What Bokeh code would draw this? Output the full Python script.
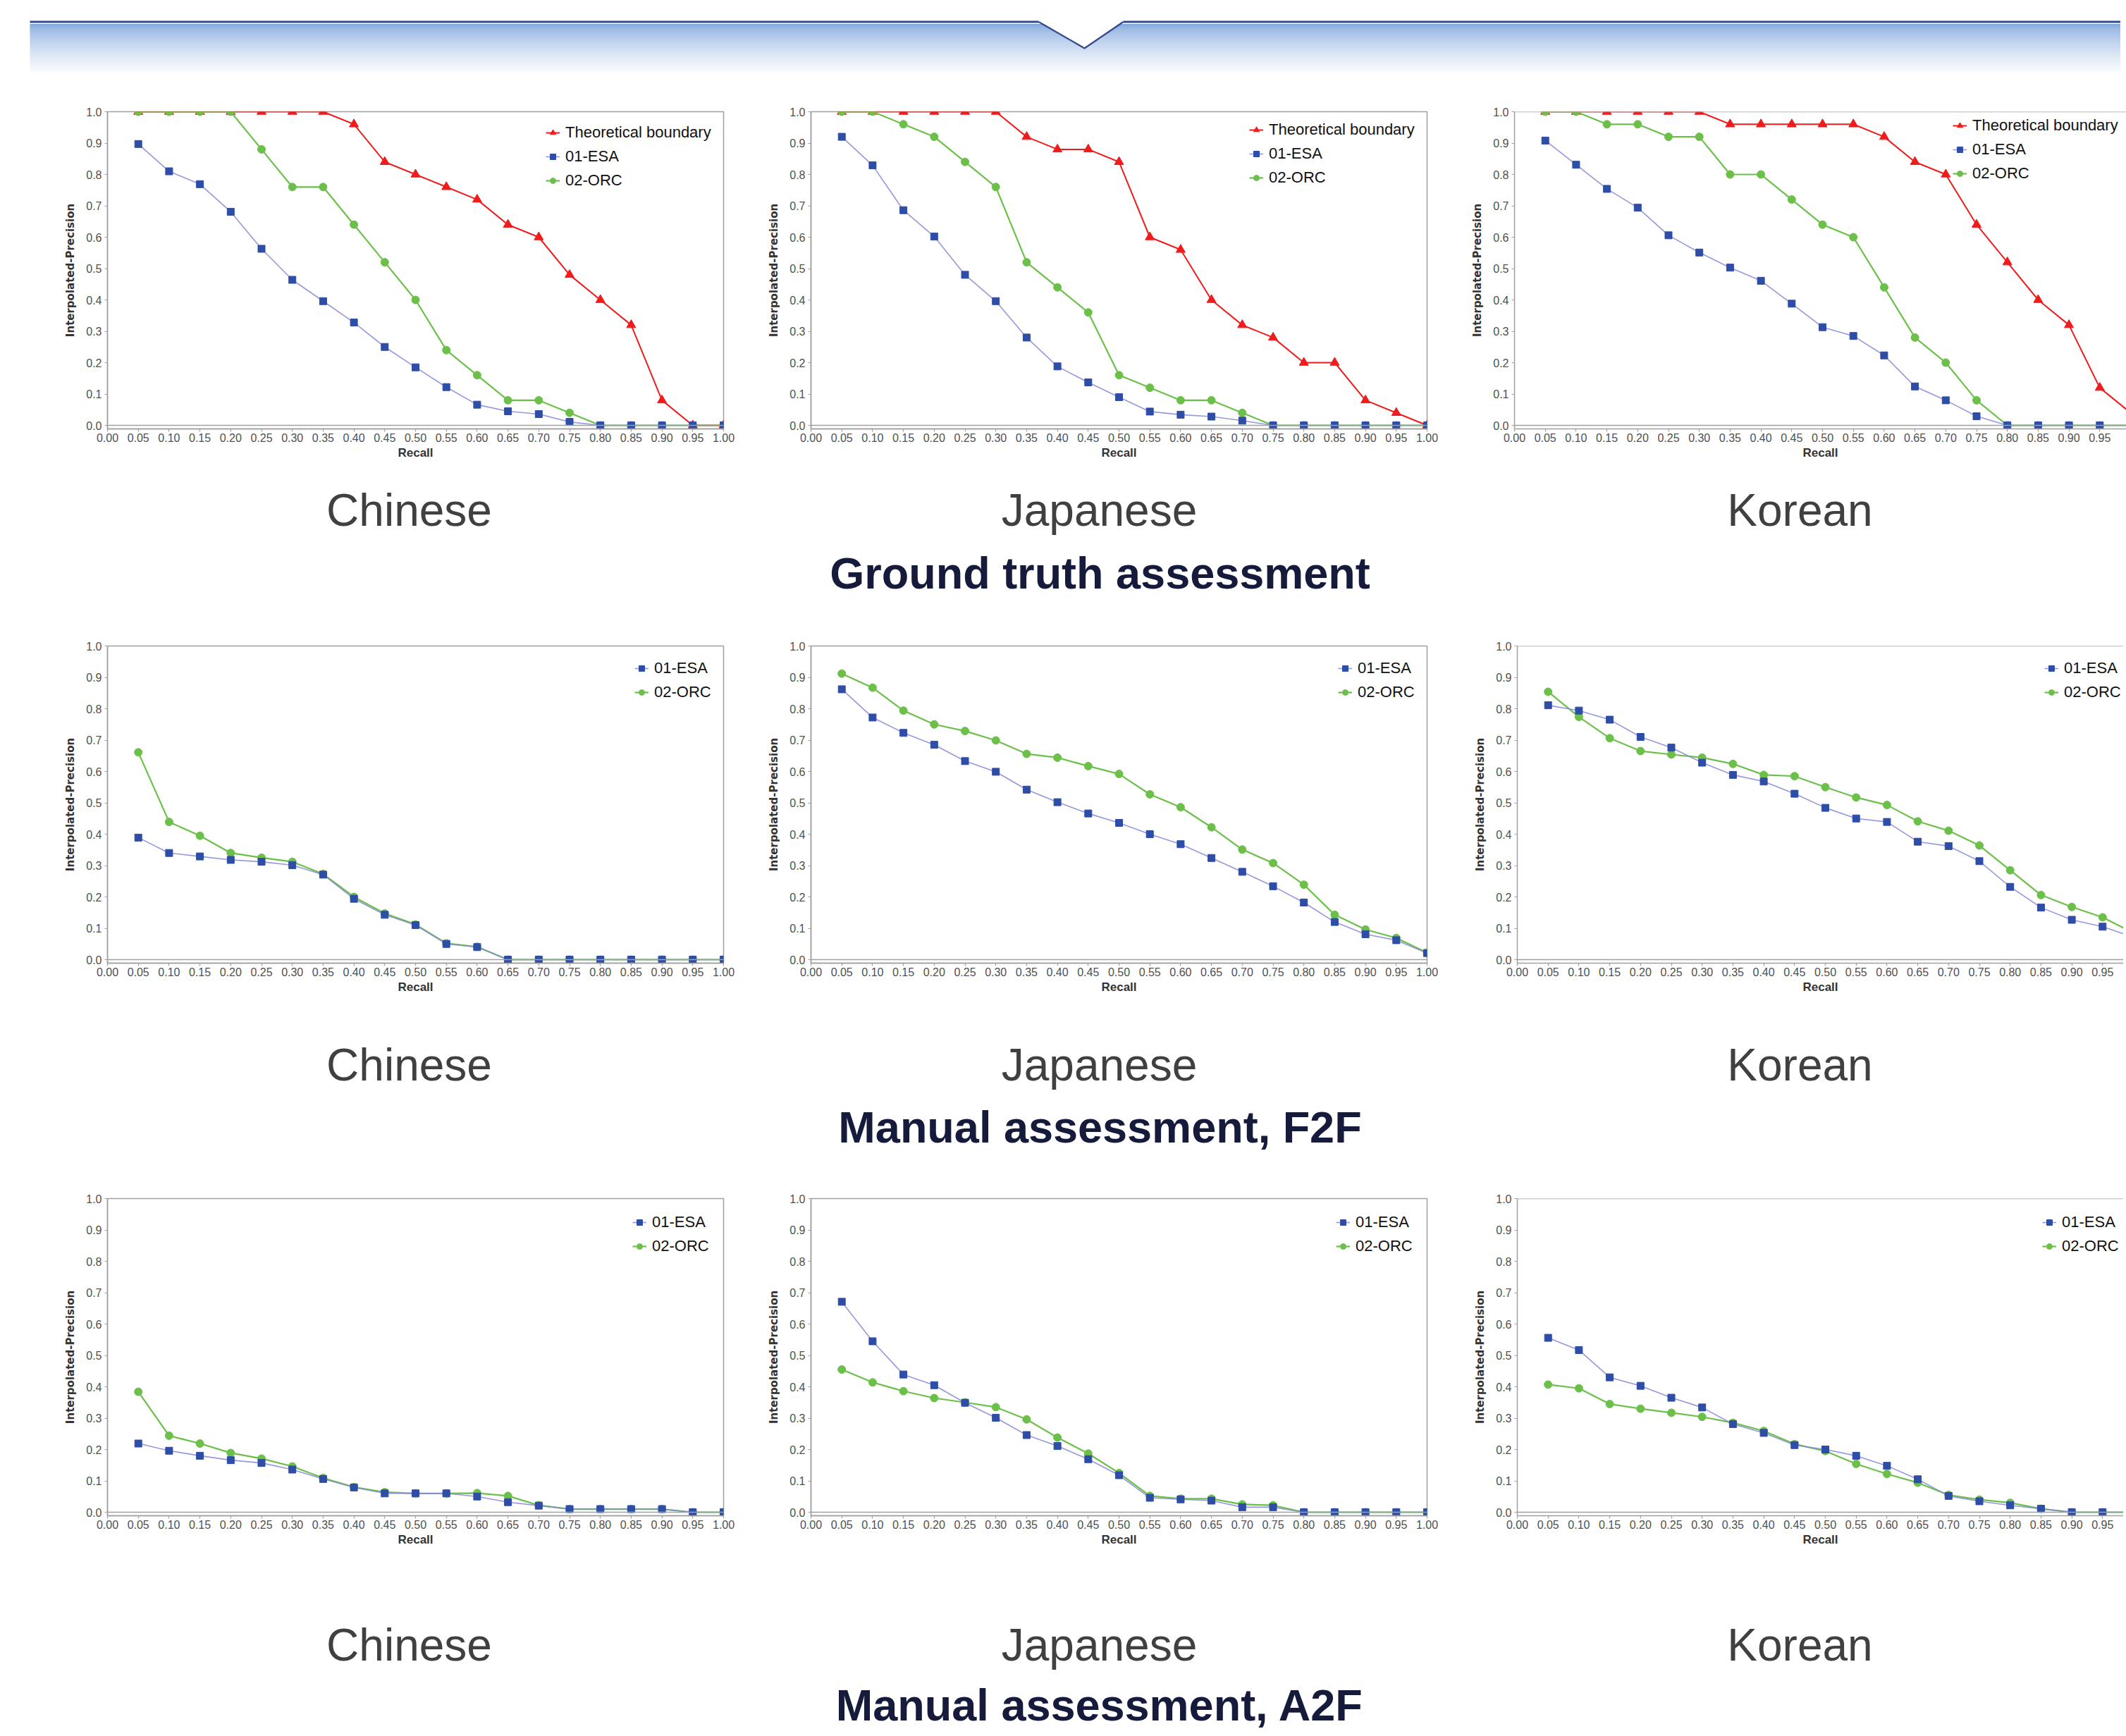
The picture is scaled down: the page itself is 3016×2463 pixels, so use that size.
from bokeh.plotting import figure
from bokeh.layouts import column, row
from bokeh.models import Range1d, FixedTicker, PrintfTickFormatter, Legend, LegendItem, Span
from bokeh.core.properties import value
from bokeh.embed import file_html
from bokeh.resources import INLINE

# ---------------- data ----------------
recall = [0.05, 0.10, 0.15, 0.20, 0.25, 0.30, 0.35, 0.40, 0.45, 0.50,
          0.55, 0.60, 0.65, 0.70, 0.75, 0.80, 0.85, 0.90, 0.95, 1.00]
x_ticks = [0.00, 0.05, 0.10, 0.15, 0.20, 0.25, 0.30, 0.35, 0.40, 0.45, 0.50,
           0.55, 0.60, 0.65, 0.70, 0.75, 0.80, 0.85, 0.90, 0.95, 1.00]
y_ticks = [0.0, 0.1, 0.2, 0.3, 0.4, 0.5, 0.6, 0.7, 0.8, 0.9, 1.0]

languages = ["Chinese", "Japanese", "Korean"]
sections = ["Ground truth assessment", "Manual assessment, F2F", "Manual assessment, A2F"]
series_names = ["Theoretical boundary", "01-ESA", "02-ORC"]

# Ground truth assessment
gt_zh_theory = [1.00, 1.00, 1.00, 1.00, 1.00, 1.00, 1.00, 0.96, 0.84, 0.80, 0.76, 0.72, 0.64, 0.60, 0.48, 0.40, 0.32, 0.08, 0.00, 0.00]
gt_zh_esa = [0.897, 0.810, 0.769, 0.681, 0.563, 0.464, 0.396, 0.328, 0.250, 0.185, 0.122, 0.066, 0.045, 0.036, 0.011, 0.0, 0.0, 0.0, 0.0, 0.0]
gt_zh_orc = [1.00, 1.00, 1.00, 1.00, 0.88, 0.76, 0.76, 0.64, 0.52, 0.40, 0.24, 0.16, 0.08, 0.08, 0.04, 0.0, 0.0, 0.0, 0.0, 0.0]

gt_ja_theory = [1.00, 1.00, 1.00, 1.00, 1.00, 1.00, 0.92, 0.88, 0.88, 0.84, 0.60, 0.56, 0.40, 0.32, 0.28, 0.20, 0.20, 0.08, 0.04, 0.00]
gt_ja_esa = [0.920, 0.829, 0.686, 0.602, 0.480, 0.396, 0.280, 0.188, 0.137, 0.090, 0.044, 0.034, 0.028, 0.015, 0.0, 0.0, 0.0, 0.0, 0.0, 0.0]
gt_ja_orc = [1.00, 1.00, 0.96, 0.92, 0.84, 0.76, 0.52, 0.44, 0.36, 0.16, 0.12, 0.08, 0.08, 0.04, 0.0, 0.0, 0.0, 0.0, 0.0, 0.0]

gt_ko_theory = [1.00, 1.00, 1.00, 1.00, 1.00, 1.00, 0.96, 0.96, 0.96, 0.96, 0.96, 0.92, 0.84, 0.80, 0.64, 0.52, 0.40, 0.32, 0.12, 0.04]
gt_ko_esa = [0.908, 0.831, 0.754, 0.694, 0.606, 0.551, 0.503, 0.461, 0.388, 0.313, 0.285, 0.223, 0.124, 0.080, 0.029, 0.0, 0.0, 0.0, 0.0, 0.0]
gt_ko_orc = [1.00, 1.00, 0.96, 0.96, 0.92, 0.92, 0.80, 0.80, 0.72, 0.64, 0.60, 0.44, 0.28, 0.20, 0.08, 0.0, 0.0, 0.0, 0.0, 0.0]

# Manual assessment, F2F
f2f_zh_esa = [0.389, 0.340, 0.329, 0.318, 0.312, 0.301, 0.271, 0.194, 0.143, 0.110, 0.050, 0.040, 0.0, 0.0, 0.0, 0.0, 0.0, 0.0, 0.0, 0.0]
f2f_zh_orc = [0.661, 0.439, 0.395, 0.340, 0.325, 0.312, 0.273, 0.200, 0.147, 0.112, 0.052, 0.041, 0.0, 0.0, 0.0, 0.0, 0.0, 0.0, 0.0, 0.0]

f2f_ja_esa = [0.862, 0.772, 0.723, 0.685, 0.633, 0.599, 0.542, 0.502, 0.466, 0.436, 0.400, 0.368, 0.324, 0.280, 0.234, 0.182, 0.120, 0.081, 0.062, 0.021]
f2f_ja_orc = [0.912, 0.867, 0.794, 0.750, 0.729, 0.699, 0.656, 0.644, 0.617, 0.592, 0.527, 0.486, 0.422, 0.351, 0.308, 0.239, 0.143, 0.096, 0.069, 0.022]

f2f_ko_esa = [0.811, 0.794, 0.765, 0.710, 0.676, 0.628, 0.589, 0.568, 0.529, 0.484, 0.450, 0.439, 0.376, 0.362, 0.314, 0.232, 0.166, 0.127, 0.105, 0.072]
f2f_ko_orc = [0.854, 0.774, 0.706, 0.665, 0.654, 0.644, 0.624, 0.589, 0.585, 0.550, 0.517, 0.493, 0.441, 0.411, 0.364, 0.285, 0.206, 0.168, 0.135, 0.085]

# Manual assessment, A2F
a2f_zh_esa = [0.219, 0.196, 0.180, 0.166, 0.157, 0.136, 0.106, 0.079, 0.060, 0.060, 0.060, 0.050, 0.032, 0.021, 0.010, 0.010, 0.010, 0.010, 0.0, 0.0]
a2f_zh_orc = [0.384, 0.244, 0.219, 0.189, 0.171, 0.146, 0.109, 0.080, 0.064, 0.060, 0.060, 0.061, 0.052, 0.022, 0.010, 0.010, 0.010, 0.010, 0.0, 0.0]

a2f_ja_esa = [0.671, 0.545, 0.439, 0.405, 0.349, 0.301, 0.246, 0.211, 0.169, 0.118, 0.046, 0.041, 0.037, 0.016, 0.016, 0.0, 0.0, 0.0, 0.0, 0.0]
a2f_ja_orc = [0.455, 0.414, 0.386, 0.364, 0.350, 0.335, 0.296, 0.238, 0.187, 0.125, 0.052, 0.043, 0.043, 0.025, 0.022, 0.0, 0.0, 0.0, 0.0, 0.0]

a2f_ko_esa = [0.556, 0.517, 0.430, 0.403, 0.365, 0.334, 0.281, 0.253, 0.214, 0.200, 0.180, 0.148, 0.105, 0.052, 0.035, 0.022, 0.011, 0.0, 0.0, 0.0]
a2f_ko_orc = [0.407, 0.395, 0.345, 0.330, 0.317, 0.304, 0.285, 0.259, 0.217, 0.195, 0.154, 0.122, 0.094, 0.055, 0.040, 0.030, 0.011, 0.0, 0.0, 0.0]

# ---------------- styling ----------------
RED = "#EE1C1C"
ESA_MARK = "#2E4DA7"
ESA_LINE = "#8486D8"
ORC = "#6CC04A"
FRAME = "#A0A0A0"
TICK_FONT = "Liberation Sans"

FRAME_H = 450
Y_START = -5.0 / 445.0
UNIT = 874.0

# column geometry: (min_border_left, frame_width, min_border_right)
COLS_R1 = [(144, 874, 60), (60, 874, 60), (60, 868, 0)]
COLS_R23 = [(144, 874, 60), (60, 874, 60), (68, 860, 0)]


def make_chart(esa, orc, theory, geom, legend_xy):
    mbl, fw, mbr = geom
    x_end = fw / UNIT
    p = figure(frame_width=fw, frame_height=FRAME_H,
               x_range=Range1d(0, x_end), y_range=Range1d(Y_START, 1.0),
               min_border_left=mbl, min_border_right=mbr,
               min_border_top=40, min_border_bottom=60,
               toolbar_location=None, output_backend="svg",
               background_fill_color="white", border_fill_color="white")
    p.grid.visible = False
    if mbr == 0:
        p.outline_line_color = None
        p.add_layout(Span(location=1.0, dimension="width", line_color=FRAME, line_width=1.5))
    else:
        p.outline_line_color = FRAME
        p.outline_line_width = 1.5
    p.add_layout(Span(location=0.0, dimension="width", line_color=FRAME, line_width=1.5))

    # axes
    p.xaxis.ticker = FixedTicker(ticks=x_ticks)
    p.xaxis.formatter = PrintfTickFormatter(format="%.2f")
    p.yaxis.ticker = FixedTicker(ticks=y_ticks)
    p.yaxis.formatter = PrintfTickFormatter(format="%.1f")
    for ax in (p.xaxis[0], p.yaxis[0]):
        ax.axis_line_color = FRAME
        ax.axis_line_width = 1.5
        ax.major_tick_line_color = FRAME
        ax.major_tick_line_width = 1.2
        ax.major_tick_in = 0
        ax.major_tick_out = 4
        ax.minor_tick_line_color = None
        ax.major_label_text_font = TICK_FONT
        ax.major_label_text_font_size = "16px"
        ax.major_label_text_color = "#505050"
    p.xaxis.major_label_standoff = 2
    p.yaxis.major_label_standoff = 4
    p.xaxis.axis_label = "Recall"
    p.xaxis.axis_label_text_font = "Liberation Sans"
    p.xaxis.axis_label_text_font_size = "17px"
    p.xaxis.axis_label_text_font_style = "bold"
    p.xaxis.axis_label_text_color = "#333333"
    p.xaxis.axis_label_standoff = 3
    p.yaxis.axis_label = "Interpolated-Precision"
    p.yaxis.axis_label_text_font = "DejaVu Sans"
    p.yaxis.axis_label_text_font_size = "15px"
    p.yaxis.axis_label_text_font_style = "bold"
    p.yaxis.axis_label_text_color = "#333333"
    p.yaxis.axis_label_standoff = 10

    items = []
    if theory is not None:
        l0 = p.line(recall, theory, line_color=RED, line_width=2)
        s0 = p.scatter(recall, theory, marker="triangle", size=13,
                       fill_color=RED, line_color=RED)
        items.append(LegendItem(label=series_names[0], renderers=[l0, s0]))
    l2 = p.line(recall, orc, line_color=ORC, line_width=2.2)
    s2 = p.scatter(recall, orc, marker="circle", size=11,
                   fill_color=ORC, line_color=ORC)
    l1 = p.line(recall, esa, line_color=ESA_LINE, line_width=1.6, line_alpha=0.85)
    s1 = p.scatter(recall, esa, marker="square", size=10,
                   fill_color=ESA_MARK, line_color=ESA_MARK)
    items.append(LegendItem(label=series_names[1], renderers=[l1, s1]))
    items.append(LegendItem(label=series_names[2], renderers=[l2, s2]))

    legend = Legend(items=items, location=legend_xy,
                    border_line_color=None, background_fill_alpha=0,
                    padding=0, margin=0, spacing=8,
                    glyph_width=20, glyph_height=24, label_height=24,
                    label_standoff=8,
                    label_text_font="Liberation Sans",
                    label_text_font_size="22px",
                    label_text_color="#111111")
    p.add_layout(legend)
    return p


def make_band(height, lang_y, title_y, title):
    b = figure(width=3000, height=height, x_range=Range1d(0, 3000),
               y_range=Range1d(height, 0), x_axis_type=None, y_axis_type=None,
               toolbar_location=None, output_backend="svg", min_border=0,
               outline_line_color=None, background_fill_color="white",
               border_fill_color="white")
    b.text(x=[572, 1551, 2545], y=[lang_y] * 3, text=languages,
           text_font=value("Liberation Sans"), text_font_size="64px",
           text_align="center", text_baseline="alphabetic", text_color="#404040")
    b.text(x=[1552], y=[title_y], text=[title],
           text_font=value("Liberation Sans"), text_font_size="63px",
           text_font_style="bold",
           text_align="center", text_baseline="alphabetic", text_color="#161A3B")
    return b


# ---------------- banner ----------------
banner = figure(width=3000, height=110, x_range=Range1d(0, 3000), y_range=Range1d(110, 0),
                x_axis_type=None, y_axis_type=None, toolbar_location=None,
                output_backend="svg", min_border=0, outline_line_color=None,
                background_fill_color="white", border_fill_color="white")
start_rgb = (128, 166, 220)
n_strips = 72
tops, bottoms, cols = [], [], []
for i in range(n_strips):
    t = (i / (n_strips - 1)) ** 0.65
    r = int(start_rgb[0] + (255 - start_rgb[0]) * t)
    g = int(start_rgb[1] + (255 - start_rgb[1]) * t)
    bl = int(start_rgb[2] + (255 - start_rgb[2]) * t)
    tops.append(25.5 + i)
    bottoms.append(26.7 + i)
    cols.append("#%02x%02x%02x" % (r, g, bl))
banner.quad(left=34, right=3000, top=tops, bottom=bottoms, fill_color=cols, line_color=None)
banner.patch([1465, 1530, 1585], [21.0, 60, 21.0], fill_color="white", line_color=None)
banner.multi_line([[34, 1465], [1585, 3000]], [[22.5, 22.5], [22.5, 22.5]],
                  line_color="#34498F", line_width=3)
banner.line([1465, 1530, 1585], [22.5, 60, 22.5], line_color="#34498F", line_width=2.2)

# ---------------- charts ----------------
r1 = row(
    make_chart(gt_zh_esa, gt_zh_orc, gt_zh_theory, COLS_R1[0], (622, 339)),
    make_chart(gt_ja_esa, gt_ja_orc, gt_ja_theory, COLS_R1[1], (622, 343)),
    make_chart(gt_ko_esa, gt_ko_orc, gt_ko_theory, COLS_R1[2], (622, 349)),
)
r2 = row(
    make_chart(f2f_zh_esa, f2f_zh_orc, None, COLS_R23[0], (748, 371)),
    make_chart(f2f_ja_esa, f2f_ja_orc, None, COLS_R23[1], (748, 371)),
    make_chart(f2f_ko_esa, f2f_ko_orc, None, COLS_R23[2], (748, 371)),
)
r3 = row(
    make_chart(a2f_zh_esa, a2f_zh_orc, None, COLS_R23[0], (745, 369)),
    make_chart(a2f_ja_esa, a2f_ja_orc, None, COLS_R23[1], (745, 369)),
    make_chart(a2f_ko_esa, a2f_ko_orc, None, COLS_R23[2], (745, 369)),
)

band1 = make_band(208, 55, 144, sections[0])
band2 = make_band(234, 84, 172, sections[1])
band3 = make_band(251, 123, 208, sections[2])

layout = column(banner, r1, band1, r2, band2, r3, band3, margin=(8, 0, 0, 8))

open("out.html", "w").write(file_html(layout, INLINE, title="Interpolated precision"))
